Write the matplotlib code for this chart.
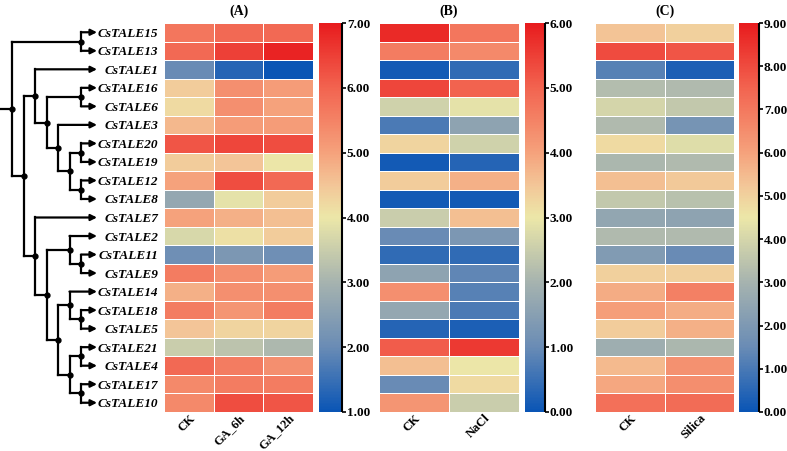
import matplotlib
matplotlib.use('Agg')
import matplotlib.pyplot as plt
from matplotlib.colors import LinearSegmentedColormap
from matplotlib.transforms import ScaledTranslation
import numpy as np

plt.rcParams['font.family'] = ['Liberation Serif', 'DejaVu Serif']
plt.rcParams['font.weight'] = 'bold'

# ---------------- data ----------------
genes = ['CsTALE15', 'CsTALE13', 'CsTALE1', 'CsTALE16', 'CsTALE6', 'CsTALE3',
         'CsTALE20', 'CsTALE19', 'CsTALE12', 'CsTALE8', 'CsTALE7', 'CsTALE2',
         'CsTALE11', 'CsTALE9', 'CsTALE14', 'CsTALE18', 'CsTALE5', 'CsTALE21',
         'CsTALE4', 'CsTALE17', 'CsTALE10']

ga_cols = ['CK', 'GA_6h', 'GA_12h']
ga_ck = [5.7, 5.9, 2.0, 4.4, 4.2, 4.7, 6.2, 4.4, 5.0, 2.7, 5.0, 3.7, 2.1, 5.6,
         4.8, 5.6, 4.5, 3.5, 5.9, 5.4, 5.4]
ga_6h = [5.9, 6.5, 1.3, 5.3, 5.3, 5.1, 6.4, 4.5, 6.3, 3.9, 4.8, 4.1, 2.3, 5.3,
         5.3, 5.2, 4.3, 3.3, 5.6, 5.6, 6.3]
ga_12h = [5.9, 6.9, 1.0, 5.1, 5.0, 5.1, 6.3, 4.0, 5.9, 4.4, 4.6, 4.4, 2.1, 5.1,
          5.3, 5.6, 4.3, 3.1, 5.3, 5.6, 6.2]

nacl_cols = ['CK', 'NaCl']
nacl_ck = [5.8, 4.6, 0.1, 5.4, 2.6, 0.7, 3.3, 0.1, 3.4, 0.1, 2.5, 1.0, 0.4, 1.6,
           4.3, 1.7, 0.3, 5.1, 3.6, 1.0, 4.2]
nacl_trt = [4.7, 4.4, 0.4, 5.0, 2.9, 1.6, 2.6, 0.3, 3.8, 0.1, 3.6, 1.3, 0.4, 0.9,
            0.8, 0.7, 0.2, 5.6, 3.0, 3.2, 2.5]

si_cols = ['CK', 'Silica']
si_ck = [5.3, 8.0, 1.2, 3.3, 4.0, 3.2, 4.8, 3.1, 5.4, 3.6, 2.5, 3.2, 2.1, 5.0,
         5.8, 6.1, 5.1, 2.8, 5.5, 5.9, 7.2]
si_trt = [5.0, 7.8, 0.3, 3.2, 3.6, 1.8, 4.2, 3.2, 5.2, 3.4, 2.4, 3.2, 1.5, 5.0,
          6.8, 5.8, 5.7, 3.1, 6.4, 6.5, 7.3]

# dendrogram: (node height, [children])
tree = (0, [(6, ['CsTALE15', 'CsTALE13']),
            (1, [(2, ['CsTALE1',
                      (3, [(6, ['CsTALE16', 'CsTALE6']),
                           (4, ['CsTALE3',
                                (5, [(6, ['CsTALE20', 'CsTALE19']),
                                     (6, ['CsTALE12', 'CsTALE8'])])])])]),
                 (2, ['CsTALE7',
                      (3, [(5, ['CsTALE2', (6, ['CsTALE11', 'CsTALE9'])]),
                           (4, [(5, ['CsTALE14', (6, ['CsTALE18', 'CsTALE5'])]),
                                (5, [(6, ['CsTALE21', 'CsTALE4']),
                                     (6, ['CsTALE17', 'CsTALE10'])])])])])])])

# ---------------- style ----------------
cmap = LinearSegmentedColormap.from_list('bwr_custom', [
    (0.0, '#0a55b5'), (0.167, '#6a8cb5'), (0.333, '#a6b3af'),
    (0.5, '#ece7a8'), (0.583, '#f3c698'), (0.667, '#f5a27c'),
    (0.833, '#f26450'), (1.0, '#e81c1e')])

W, H = 787, 451
fig = plt.figure(figsize=(W / 100, H / 100), dpi=100)


def rect(x0, x1, y0, y1):
    return [x0 / W, 1 - y1 / H, (x1 - x0) / W, (y1 - y0) / H]


TOP, BOT = 23, 412
n = len(genes)

panels = [
    ('(A)', ga_cols, [ga_ck, ga_6h, ga_12h], 1, 7, (164, 313), (319, 342)),
    ('(B)', nacl_cols, [nacl_ck, nacl_trt], 0, 6, (379, 519), (525, 545)),
    ('(C)', si_cols, [si_ck, si_trt], 0, 9, (595, 734), (739, 759)),
]

for pi, (title, cols, vals, vmin, vmax, hx, cx) in enumerate(panels):
    ax = fig.add_axes(rect(hx[0], hx[1], TOP, BOT))
    data = np.array(vals).T
    m = ax.pcolormesh(np.arange(len(cols) + 1), np.arange(n + 1), data,
                      cmap=cmap, vmin=vmin, vmax=vmax,
                      edgecolor='white', linewidth=0.6)
    ax.set_xlim(0, len(cols))
    ax.set_ylim(n, 0)
    for s in ax.spines.values():
        s.set_visible(False)
    ax.set_xticks(np.arange(len(cols)) + 0.5)
    ax.set_xticklabels(cols, rotation=45, ha='right', va='top',
                       rotation_mode='anchor', fontsize=9, fontweight='bold')
    off = ScaledTranslation(4 / 100, 0, fig.dpi_scale_trans)
    for lab in ax.get_xticklabels():
        lab.set_transform(lab.get_transform() + off)
    ax.tick_params(length=0, pad=0.3)
    if pi == 0:
        ax.set_yticks(np.arange(n) + 0.5)
        ax.set_yticklabels(genes, fontsize=9.5, fontweight='bold', style='italic')
        ax.tick_params(axis='y', pad=4)
    else:
        ax.set_yticks([])
    ax.set_title(title, fontsize=10, fontweight='bold', pad=6)

    cax = fig.add_axes(rect(cx[0], cx[1], TOP, BOT))
    cb = fig.colorbar(m, cax=cax, ticks=np.arange(vmin, vmax + 1))
    cb.outline.set_visible(False)
    cax.plot([1, 1], [0, 1], transform=cax.transAxes, color='k', lw=1.5,
             clip_on=False, solid_capstyle='butt')
    cax.tick_params(length=3, width=1.2, labelsize=9.5, pad=0.5)
    cax.yaxis.set_major_formatter('{x:.2f}')
    for t in cax.get_yticklabels():
        t.set_fontweight('bold')

# ---------------- dendrogram ----------------
dax = fig.add_axes(rect(0, 97, TOP, BOT))
dax.set_ylim(n, 0)
dax.set_xlim(-12 / 11.5, 85 / 11.5)
dax.axis('off')
TIP = 85 / 11.5
LW = 1.6


def draw(node):
    if isinstance(node, str):
        return None, genes.index(node) + 0.5
    level, children = node
    info = [draw(c) for c in children]
    ys = [y for _, y in info]
    y = float(np.mean(ys))
    dax.plot([level, level], [min(ys), max(ys)], color='k', lw=LW,
             solid_capstyle='projecting')
    for (cl, cy) in info:
        if cl is None:
            dax.annotate('', xy=(TIP, cy), xytext=(level, cy),
                         arrowprops=dict(arrowstyle='-|>', color='k', lw=LW,
                                         mutation_scale=9, shrinkA=0, shrinkB=0),
                         annotation_clip=False)
        else:
            dax.plot([level, cl], [cy, cy], color='k', lw=LW,
                     solid_capstyle='projecting')
    dax.plot(level, y, 'o', color='k', ms=3.5)
    return level, y


root_level, root_y = draw(tree)
dax.plot([dax.get_xlim()[0], root_level], [root_y, root_y], color='k', lw=LW)

fig.savefig('out.png', dpi=100)
